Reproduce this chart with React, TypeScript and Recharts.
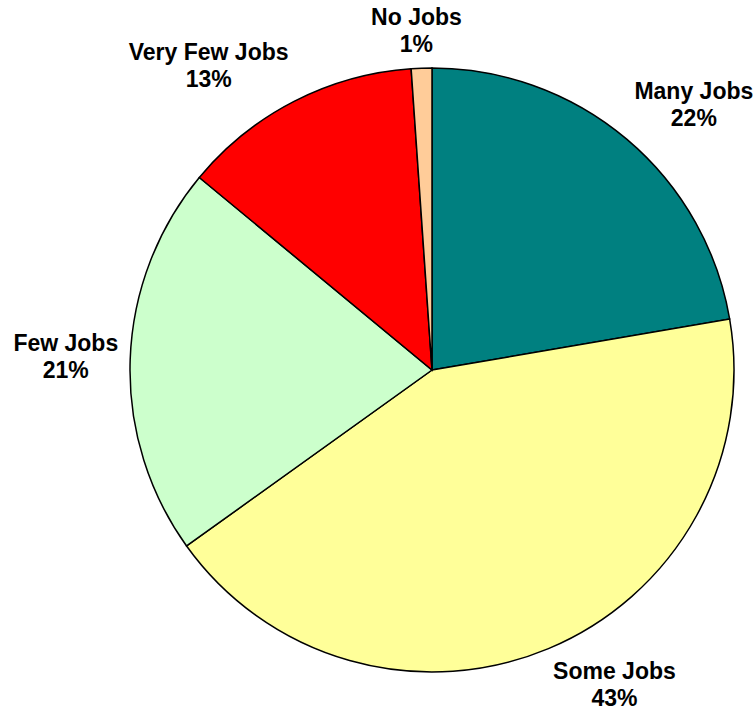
import React from "react";
import { PieChart, Pie, Cell } from "recharts";

const categories = ["Many Jobs", "Some Jobs", "Few Jobs", "Very Few Jobs", "No Jobs"];
const shares = [22.3, 42.8, 20.9, 12.9, 1.1];
const colors = ["#008080", "#FFFF99", "#CCFFCC", "#FF0000", "#FFCC99"];

const data = categories.map((name, i) => ({ name, value: shares[i] }));

const FONT_SIZE = 23;
const LINE_GAP = 27;
const FONT = `bold ${FONT_SIZE}px 'Liberation Sans', Arial, sans-serif`;
const RADIAN = Math.PI / 180;

let ctx: CanvasRenderingContext2D | null = null;
function measure(t: string): number {
  if (!ctx) {
    const c = document.createElement("canvas");
    ctx = c.getContext("2d");
  }
  if (!ctx) return t.length * FONT_SIZE * 0.58;
  ctx.font = FONT;
  return ctx.measureText(t).width;
}

const clamp = (v: number) => Math.max(-1, Math.min(1, v));

const renderLabel = (props: any) => {
  const { cx, cy, midAngle, outerRadius, percent, name } = props;
  const pct = `${Math.round(percent * 100)}%`;
  const w = Math.max(measure(name), measure(pct));
  const h = LINE_GAP + FONT_SIZE;
  const ux = Math.cos(-midAngle * RADIAN);
  const uy = Math.sin(-midAngle * RADIAN);
  const r = outerRadius + 12;
  const px = cx + r * ux;
  const py = cy + r * uy;
  const bx = px + (w / 2) * clamp(3 * ux);
  const by = py + (h / 2) * clamp(3 * uy);
  const b1 = by - 6;
  return (
    <text
      x={bx}
      y={b1}
      textAnchor="middle"
      fontFamily="'Liberation Sans', Arial, sans-serif"
      fontWeight="bold"
      fontSize={FONT_SIZE}
      fill="#000"
    >
      <tspan x={bx} y={b1}>{name}</tspan>
      <tspan x={bx} y={b1 + LINE_GAP}>{pct}</tspan>
    </text>
  );
};

export default function App() {
  return (
    <div style={{ position: "absolute", left: 0, top: 0, background: "#fff" }}>
      <PieChart width={756} height={713} margin={{ top: 0, right: 0, bottom: 0, left: 0 }}>
        <Pie
          data={data}
          dataKey="value"
          nameKey="name"
          cx={432}
          cy={370}
          outerRadius={302}
          startAngle={90}
          endAngle={-270}
          stroke="#000"
          strokeWidth={1.5}
          label={renderLabel}
          labelLine={false}
          isAnimationActive={false}
        >
          {data.map((d, i) => (
            <Cell key={d.name} fill={colors[i]} />
          ))}
        </Pie>
      </PieChart>
    </div>
  );
}
